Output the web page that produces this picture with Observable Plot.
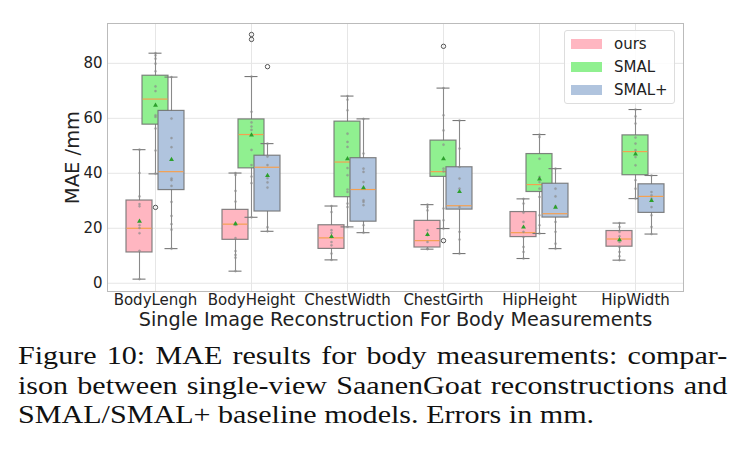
<!DOCTYPE html>
<html>
<head>
<meta charset="utf-8">
<script src="https://cdn.jsdelivr.net/npm/d3@7"></script>
<script src="https://cdn.jsdelivr.net/npm/@observablehq/plot@0.6"></script>
<style>
  html, body { margin: 0; padding: 0; background: white; }
  #fig { position: relative; width: 747px; height: 473px; }
  #chart svg [aria-label="x-axis label"] text { font-size: 19.2px; }
  #chart svg [aria-label="y-axis label"] text { font-size: 19.5px; }
  #legend { position: absolute; left: 564px; top: 30px; width: 109px; height: 72px;
    border: 1px solid #ddd; border-radius: 3px; background: rgba(255,255,255,0.85);
    font-family: "DejaVu Sans", sans-serif; font-size: 15px; color: #222; }
  .entry { position: absolute; left: 0; height: 20px; width: 100%; }
  .sw { position: absolute; left: 6px; top: 5px; width: 31px; height: 10px; }
  .lab { position: absolute; left: 49px; top: 0; line-height: 20px; }
  #caption { position: absolute; left: 18px; top: 341px; width: 601px;
    transform: scaleX(1.18); transform-origin: 0 0;
    font-family: "Liberation Serif", "Times New Roman", serif; font-size: 25.5px; color: #111; line-height: 29.5px; }
  .jl { text-align: justify; text-align-last: justify; white-space: nowrap; }
</style>
</head>
<body>
<div id="fig">
  <div id="chart"></div>
  <div id="legend"></div>
  <div id="caption">
    <div class="jl">Figure 10: MAE results for body measurements: compar-</div>
    <div class="jl">ison between single-view SaanenGoat reconstructions and</div>
    <div>SMAL/SMAL+ baseline models. Errors in mm.</div>
  </div>
</div>
<script>
// ---------- data ----------
const categories = ["BodyLengh", "BodyHeight", "ChestWidth", "ChestGirth", "HipHeight", "HipWidth"];
const series = ["ours", "SMAL", "SMAL+"];
const seriesColors = ["#ffb6c1", "#90f090", "#b0c4de"];
const yTicks = [0, 20, 40, 60, 80];

// per category: [whiskerLow, Q1, median, Q3, whiskerHigh, mean]
const oursStats = [
  [1.5, 11.2, 20.0, 30.1, 48.6, 22.5],
  [4.4, 15.8, 21.5, 26.7, 40.1, 21.6],
  [8.5, 12.5, 16.5, 21.1, 28.1, 17.0],
  [12.4, 13.0, 15.5, 22.7, 28.6, 17.7],
  [9.0, 16.8, 18.4, 25.9, 30.7, 20.4],
  [8.4, 13.3, 16.1, 19.0, 21.9, 15.8]
];
const smalStats = [
  [39.8, 57.7, 67.0, 75.5, 83.7, 64.7],
  [24.0, 41.8, 54.1, 59.6, 75.2, 53.9],
  [20.5, 31.3, 44.1, 58.8, 68.1, 45.3],
  [19.9, 38.7, 40.6, 51.9, 71.0, 45.3],
  [18.1, 33.2, 35.9, 47.0, 54.1, 37.9],
  [30.8, 39.3, 47.9, 53.8, 63.2, 47.0]
];
const smalPlusStats = [
  [12.6, 33.9, 40.6, 62.7, 75.0, 45.0],
  [18.9, 26.1, 42.2, 46.4, 50.8, 39.2],
  [18.4, 22.4, 34.1, 45.5, 59.8, 34.7],
  [10.8, 26.8, 28.2, 42.2, 59.2, 33.3],
  [12.6, 23.9, 25.3, 36.2, 41.7, 27.6],
  [17.9, 25.6, 31.6, 36.0, 39.2, 30.1]
];

// outliers (fliers)
const outlierCategory = ["BodyLengh", "BodyHeight", "BodyHeight", "BodyHeight", "ChestGirth", "ChestGirth"];
const outlierSeries   = ["SMAL", "SMAL", "SMAL", "SMAL+", "SMAL", "SMAL"];
const outlierValue    = [27.6, 90.5, 88.7, 78.8, 86.2, 15.5];

// individual samples (strip points), one list per category
const oursPoints = [
  [48.6, 40.1, 31.6, 28.8, 28.0, 21.1, 20.1, 18.2, 11.8, 1.5],
  [40.1, 39.4, 33.6, 29.7, 21.8, 21.2, 16.4, 11.7, 10.3, 9.3, 4.4],
  [28.1, 25.9, 19.3, 18.3, 16.8, 15.0, 13.8, 10.8, 8.5],
  [28.6, 27.7, 26.5, 19.3, 17.5, 15.0, 12.6, 12.4],
  [30.7, 29.0, 25.7, 22.3, 18.7, 16.8, 13.2, 11.4, 9.0],
  [21.9, 20.5, 18.7, 17.1, 15.0, 13.2, 11.4, 9.8, 8.4]
];
const smalPoints = [
  [83.7, 82.9, 81.7, 79.9, 77.1, 71.6, 69.9, 61.1, 60.5, 56.3, 48.3, 39.9],
  [75.2, 62.4, 58.5, 57.0, 55.8, 48.5, 43.0, 38.8, 36.4, 24.0],
  [68.1, 66.8, 62.9, 54.4, 51.4, 49.6, 41.9, 39.3, 34.1, 33.2, 29.0, 27.7, 20.5],
  [71.0, 61.1, 55.6, 50.4, 41.7, 40.7, 27.2, 22.9, 19.9],
  [54.1, 53.2, 45.3, 38.7, 36.8, 34.4, 31.4, 24.7, 21.1, 18.1],
  [63.2, 60.7, 58.1, 53.0, 50.8, 48.4, 45.9, 42.9, 37.5, 34.4, 30.8]
];
const smalPlusPoints = [
  [75.0, 59.9, 52.8, 49.5, 38.1, 37.5, 35.4, 29.6, 24.5, 21.5, 19.5, 12.6],
  [50.8, 46.1, 43.0, 38.2, 36.7, 34.8, 20.4, 18.9],
  [59.8, 47.2, 41.7, 40.5, 36.8, 30.2, 29.6, 28.4, 21.1, 18.4],
  [59.2, 49.0, 42.3, 38.1, 34.4, 27.7, 18.7, 15.9, 10.8],
  [41.7, 34.4, 31.6, 28.0, 22.3, 18.7, 14.4, 12.6],
  [39.2, 33.2, 32.0, 30.8, 27.7, 24.7, 20.5, 17.9]
];

// ---------- build tables ----------
const allStats = [oursStats, smalStats, smalPlusStats];
const allPoints = [oursPoints, smalPoints, smalPlusPoints];
const boxes = series.map((s, j) => categories.map((c, i) => {
  const [lo, q1, med, q3, hi, mean] = allStats[j][i];
  return {category: c, series: s, lo, q1, med, q3, hi, mean};
}));
const points = series.map((s, j) => categories.flatMap((c, i) =>
  allPoints[j][i].map(v => ({category: c, series: s, value: v}))));
const outliers = outlierValue.map((v, k) => ({category: outlierCategory[k], series: outlierSeries[k], value: v}));

// ---------- layout ----------
const W = 747, H = 335, ML = 107, MR = 64, MT = 23, MB = 44;
const step = (W - ML - MR) / categories.length;
const offsets = [-16, 0, 16];     // horizontal offset of each series in a category
const boxHalf = 13, capHalf = 6.5;

const marks = [
  Plot.gridY(yTicks, {stroke: "#e6e6e6", strokeOpacity: 1}),
  Plot.gridX(categories, {stroke: "#e6e6e6", strokeOpacity: 1}),
  Plot.frame({stroke: "#bbb"})
];
series.forEach((s, j) => {
  const off = offsets[j];
  const bInL = step / 2 + off - boxHalf, bInR = step / 2 - off - boxHalf;
  const cInL = step / 2 + off - capHalf, cInR = step / 2 - off - capHalf;
  const data = boxes[j];
  marks.push(
    Plot.ruleX(data, {x: "category", y1: "lo", y2: "hi", dx: off, stroke: "#8a8a8a", strokeWidth: 1.1}),
    Plot.tickY(data, {x: "category", y: "lo", insetLeft: cInL, insetRight: cInR, stroke: "#777", strokeWidth: 1.1}),
    Plot.tickY(data, {x: "category", y: "hi", insetLeft: cInL, insetRight: cInR, stroke: "#777", strokeWidth: 1.1}),
    Plot.rectY(data, {x: "category", y1: "q1", y2: "q3", insetLeft: bInL, insetRight: bInR,
      fill: seriesColors[j], stroke: "#6e6e6e", strokeOpacity: 0.85, strokeWidth: 1.2}),
    Plot.tickY(data, {x: "category", y: "med", insetLeft: bInL + 0.6, insetRight: bInR + 0.6, stroke: "#f5a050", strokeWidth: 1.2}),
    Plot.dot(points[j], {x: "category", y: "value", dx: off, r: 1.1, fill: "#8c8c8c", fillOpacity: 0.7, stroke: "#8c8c8c", strokeOpacity: 0.5, strokeWidth: 0.5}),
    Plot.dot(data, {x: "category", y: "mean", dx: off, symbol: "triangle", r: 1.8, fill: "#2ca02c"}),
    Plot.dot(outliers.filter(d => d.series === s), {x: "category", y: "value", dx: off, r: 2.2, fill: "none", stroke: "#555", strokeWidth: 1})
  );
});

const chart = Plot.plot({
  width: W, height: H,
  marginLeft: ML, marginRight: MR, marginTop: MT, marginBottom: MB,
  style: {fontFamily: "DejaVu Sans, sans-serif", fontSize: "15px", color: "#222", background: "white"},
  x: {domain: categories, padding: 0, tickSize: 0, tickPadding: 3,
      label: "Single Image Reconstruction For Body Measurements", labelAnchor: "center", labelOffset: 34},
  y: {domain: [-3, 94.5], ticks: yTicks, tickSize: 0, tickPadding: 5,
      label: "MAE /mm", labelAnchor: "center", labelArrow: "none", labelOffset: 42},
  marks
});
document.getElementById("chart").appendChild(chart);

// legend
const legend = document.getElementById("legend");
series.forEach((s, j) => {
  const e = document.createElement("div");
  e.className = "entry";
  e.style.top = (3 + j * 23) + "px";
  e.innerHTML = `<div class="sw" style="background:${seriesColors[j]}"></div><div class="lab">${s}</div>`;
  legend.appendChild(e);
});
</script>
</body>
</html>
